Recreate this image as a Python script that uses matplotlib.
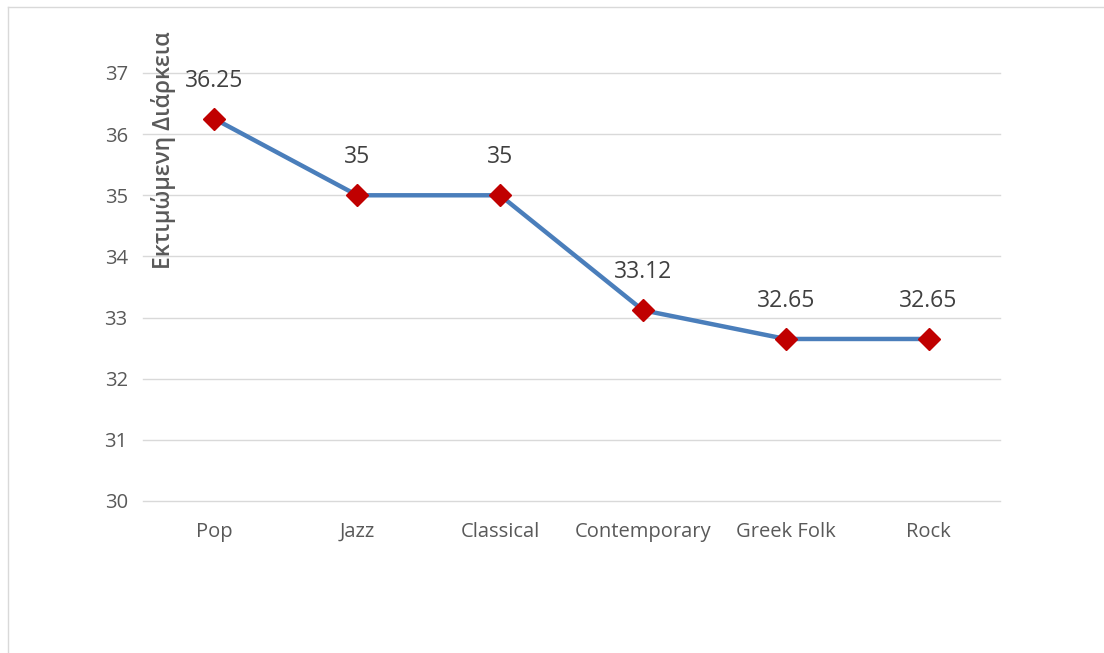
import matplotlib
matplotlib.use("Agg")
from matplotlib import pyplot as plt
from matplotlib.lines import Line2D

genres = ["Pop", "Jazz", "Classical", "Contemporary", "Greek Folk", "Rock"]
durations = [36.25, 35, 35, 33.12, 32.65, 32.65]
value_labels = ["36.25", "35", "35", "33.12", "32.65", "32.65"]
yticks = [30, 31, 32, 33, 34, 35, 36, 37]

plt.rcParams['font.family'] = ['Open Sans', 'DejaVu Sans']

fig = plt.figure(figsize=(11.04, 6.53), dpi=100)
ax = fig.add_axes([143 / 1104, 1 - 501 / 653, 857 / 1104, 428 / 653])

x = list(range(len(genres)))
ax.plot(x, durations, color="#4A7EBB", linewidth=3.2, zorder=3,
        marker="D", markersize=11, markerfacecolor="#C00000",
        markeredgecolor="#C00000", clip_on=False)

for xi, yi, lab in zip(x, durations, value_labels):
    ax.annotate(lab, (xi, yi), xytext=(0, 27.5), textcoords="offset points",
                ha="center", va="center", fontsize=16.5, color="#404040")

ax.set_xlim(-0.5, len(genres) - 0.5)
ax.set_ylim(30, 37)
ax.set_yticks(yticks)
ax.set_xticks(x)
ax.set_xticklabels(genres)
ax.tick_params(axis="both", length=0, labelsize=14.5, colors="#595959")
ax.tick_params(axis="x", pad=15)
ax.tick_params(axis="y", pad=11)
ax.grid(axis="y", color="#D9D9D9", linewidth=1)
for gl in ax.get_ygridlines():
    gl.set_clip_on(False)
ax.set_axisbelow(True)
for sp in ax.spines.values():
    sp.set_visible(False)

fig.text(163 / 1104, 1 - 150 / 653, "Εκτιμώμενη Διάρκεια", rotation=90,
         ha="center", va="center", fontsize=16.5, color="#595959", fontweight="semibold")

# chart frame edges (top and left)
fig.add_artist(Line2D([8 / 1104, 1], [1 - 7 / 653, 1 - 7 / 653],
                      transform=fig.transFigure, color="#D9D9D9", linewidth=1))
fig.add_artist(Line2D([8 / 1104, 8 / 1104], [0, 1 - 7 / 653],
                      transform=fig.transFigure, color="#D9D9D9", linewidth=1))

fig.savefig("out.png", dpi=100)
